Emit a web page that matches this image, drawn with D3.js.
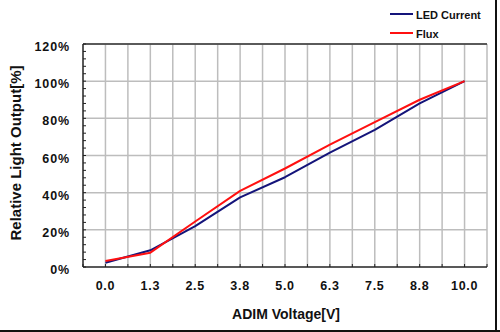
<!DOCTYPE html>
<html><head><meta charset="utf-8">
<script src="https://cdn.jsdelivr.net/npm/d3@7/dist/d3.min.js"></script>
<style>
html,body{margin:0;padding:0;background:#fff;}
svg{display:block;font-family:"Liberation Sans",Arial,sans-serif;}
</style></head>
<body>
<svg id="c" width="500" height="332"></svg>
<script>
const categories = ["0.0","1.3","2.5","3.8","5.0","6.3","7.5","8.8","10.0"];
const ledCurrent = [2.3, 9.0, 22, 37.5, 48.3, 61.5, 73.8, 88, 100];
const flux = [3.2, 7.7, 24.5, 41, 53, 65.8, 78, 90, 100];
const yTicks = [0, 20, 40, 60, 80, 100, 120];
const yMinor = d3.range(0, 121, 4);
const seriesNames = ["LED Current", "Flux"];
const seriesColors = ["#14147a", "#ff1010"];

const svg = d3.select("#c");
const L = 83, R = 487, T = 44, B = 267;

const x = d3.scaleBand().domain(categories).range([L, R]).padding(0);
const y = d3.scaleLinear().domain([0, 120]).range([B, T]);
const bw = x.bandwidth();

const gridX = [];
categories.forEach(c => { gridX.push(x(c)); gridX.push(x(c) + bw / 2); });
gridX.push(R);

const g = svg.append("g");
g.selectAll(".vg").data(gridX.slice(1)).join("line")
  .attr("x1", d => d).attr("x2", d => d).attr("y1", T).attr("y2", B)
  .attr("stroke", "#bdbdbd").attr("stroke-width", 1.5);
g.selectAll(".hg").data(yTicks.slice(1)).join("line")
  .attr("x1", L).attr("x2", R).attr("y1", d => y(d)).attr("y2", d => y(d))
  .attr("stroke", "#bdbdbd").attr("stroke-width", 1.5);
g.append("line").attr("x1", L).attr("x2", R).attr("y1", T).attr("y2", T)
  .attr("stroke", "#333").attr("stroke-width", 1.5);

g.selectAll(".ym").data(yMinor).join("line")
  .attr("x1", L).attr("x2", L + 3).attr("y1", d => y(d)).attr("y2", d => y(d))
  .attr("stroke", "#222").attr("stroke-width", 1);
g.selectAll(".xm").data(gridX).join("line")
  .attr("x1", d => d).attr("x2", d => d).attr("y1", B).attr("y2", B - 3)
  .attr("stroke", "#222").attr("stroke-width", 1);

g.append("line").attr("x1", L).attr("x2", L).attr("y1", T).attr("y2", B)
  .attr("stroke", "#222").attr("stroke-width", 1.5);
g.append("line").attr("x1", L).attr("x2", R).attr("y1", B).attr("y2", B)
  .attr("stroke", "#222").attr("stroke-width", 1.5);

g.selectAll(".yl").data(yTicks).join("text")
  .attr("x", 70).attr("y", d => y(d) + 7)
  .attr("text-anchor", "end").attr("font-weight", "bold").attr("font-size", 12.5)
  .attr("letter-spacing", 0.9).attr("fill", "#111")
  .text(d => d + "%");
g.selectAll(".xl").data(categories).join("text")
  .attr("x", d => x(d) + bw / 2).attr("y", 290)
  .attr("text-anchor", "middle").attr("font-weight", "bold").attr("font-size", 12.5)
  .attr("letter-spacing", 0.7).attr("fill", "#111")
  .text(d => d);

const line = d3.line().x((d, i) => x(categories[i]) + bw / 2).y(d => y(d));
[ledCurrent, flux].forEach((s, k) => {
  g.append("path").datum(s).attr("d", line).attr("fill", "none")
    .attr("stroke", seriesColors[k]).attr("stroke-width", 2).attr("stroke-linejoin", "round");
});

const legY = [14, 33];
seriesNames.forEach((n, k) => {
  g.append("line").attr("x1", 390).attr("x2", 413).attr("y1", legY[k]).attr("y2", legY[k])
    .attr("stroke", seriesColors[k]).attr("stroke-width", 2);
  g.append("text").attr("x", 416).attr("y", legY[k] + 4.5)
    .attr("font-weight", "bold").attr("font-size", 11).attr("fill", "#111").text(n);
});

svg.append("text").attr("transform", "translate(21,153) rotate(-90)")
  .attr("text-anchor", "middle").attr("font-weight", "bold").attr("font-size", 15)
  .attr("fill", "#111").text("Relative Light Output[%]");
svg.append("text").attr("x", 286).attr("y", 319)
  .attr("text-anchor", "middle").attr("font-weight", "bold").attr("font-size", 14)
  .attr("fill", "#111").text("ADIM Voltage[V]");

svg.append("rect").attr("x", 495).attr("y", 0).attr("width", 2).attr("height", 332).attr("fill", "#111");
svg.append("rect").attr("x", 0).attr("y", 330).attr("width", 500).attr("height", 2).attr("fill", "#111");
</script>
</body></html>
